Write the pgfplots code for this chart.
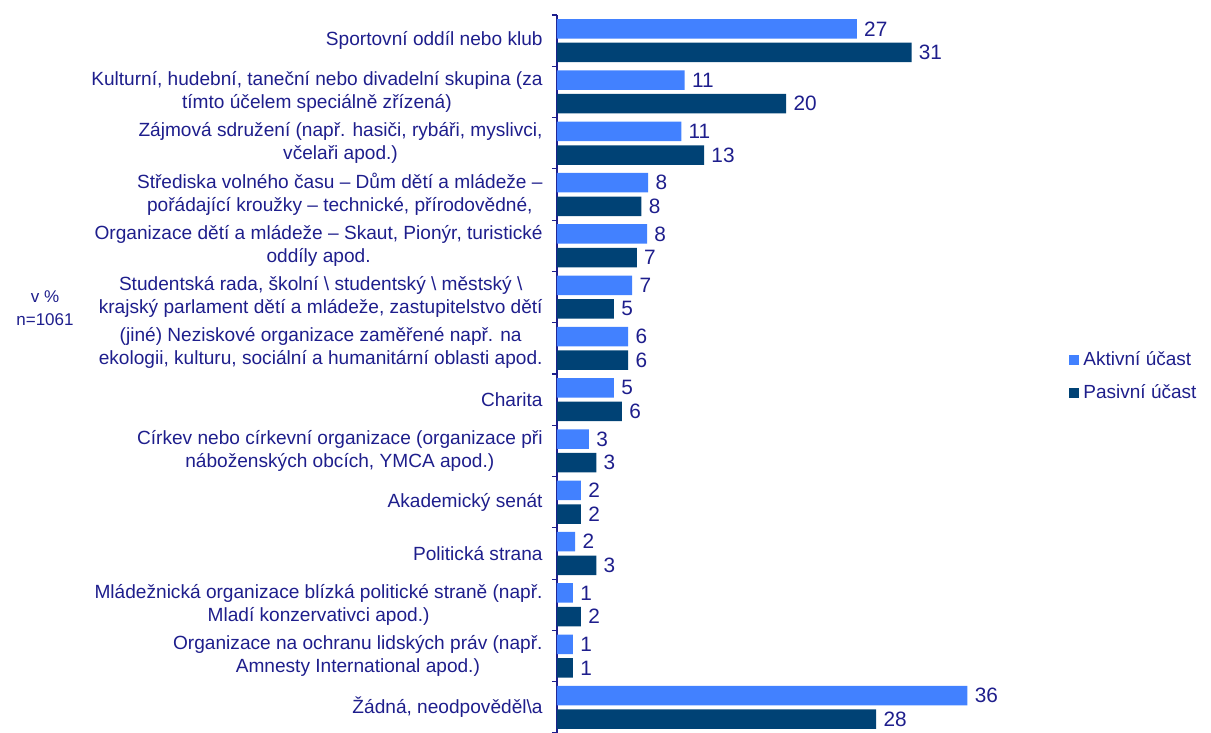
\documentclass[border=0pt]{standalone}
\usepackage{pgfplots}
\pgfplotsset{compat=1.18}
\usepackage{fontspec}
\setmainfont{Liberation Sans}
\definecolor{textcol}{RGB}{30,30,140}
\definecolor{lightbar}{RGB}{66,129,255}
\definecolor{darkbar}{RGB}{0,66,117}
\begin{document}
\begin{tikzpicture}
\path[use as bounding box] (-278.5pt,0pt) rectangle (327pt,366.5pt);
\begin{axis}[
  scale only axis,
  width=228pt, height=359pt,
  xmin=0, xmax=40,
  ymin=-0.5, ymax=13.5,
  xbar, bar width=9.75pt,
  axis x line=none,
  axis y line*=left,
  y axis line style={-, draw=textcol, line width=0.6pt},
  ytick={0,...,13},
  major tick length=0pt,
  minor ytick={-0.5,0.5,...,13.5},
  minor tick length=2.5pt,
  tick align=outside,
  minor tick style={draw=textcol, line width=0.6pt},
  yticklabel style={font=\fontsize{9.55}{11.5}\selectfont, text=textcol, align=center, inner sep=0pt, xshift=-7pt},
  yticklabels={
    {Žádná, neodpověděl\textbackslash{}a},
    {Organizace na ochranu lidských práv (např.\\Amnesty International apod.)},
    {Mládežnická organizace blízká politické straně (např.\\Mladí konzervativci apod.)},
    {Politická strana},
    {Akademický senát},
    {Církev nebo církevní organizace (organizace při\\náboženských obcích, YMCA apod.)},
    {Charita},
    {(jiné) Neziskové organizace zaměřené např. na\\ekologii, kulturu, sociální a humanitární oblasti apod.},
    {Studentská rada, školní \textbackslash{} studentský \textbackslash{} městský \textbackslash{}\\krajský parlament dětí a mládeže, zastupitelstvo dětí},
    {Organizace dětí a mládeže – Skaut, Pionýr, turistické\\oddíly apod.},
    {Střediska volného času – Dům dětí a mládeže –\\pořádající kroužky – technické, přírodovědné,},
    {Zájmová sdružení (např. hasiči, rybáři, myslivci,\\včelaři apod.)},
    {Kulturní, hudební, taneční nebo divadelní skupina (za\\tímto účelem speciálně zřízená)},
    {Sportovní oddíl nebo klub}
  },
  point meta=explicit symbolic,
  nodes near coords,
  nodes near coords style={font=\fontsize{10.4}{12}\selectfont, text=textcol, anchor=west, inner sep=0pt, xshift=3.5pt},
  legend style={at={(1.123,0.497)}, anchor=west, draw=none, fill=none,
    font=\fontsize{9.5}{11.5}\selectfont, text=textcol, row sep=4pt, inner sep=0pt},
  legend cell align=left,
  legend image code/.code={\fill[#1] (0pt,-2.5pt) rectangle (5pt,2.5pt);},
]
\addplot[fill=lightbar, draw=none, bar shift=5.9pt] table[x=a, y=y, meta=l] {
y a l
13 26.3 27
12 11.2 11
11 10.9 11
10 8.0 8
9 7.9 8
8 6.6 7
7 6.25 6
6 5.0 5
5 2.8 3
4 2.1 2
3 1.6 2
2 1.4 1
1 1.4 1
0 36.0 36
};
\addlegendentry{Aktivní účast}
\addplot[fill=darkbar, draw=none, bar shift=-5.9pt] table[x=b, y=y, meta=l] {
y b l
13 31.1 31
12 20.1 20
11 12.9 13
10 7.4 8
9 7.0 7
8 5.0 5
7 6.25 6
6 5.7 6
5 3.45 3
4 2.1 2
3 3.45 3
2 2.1 2
1 1.4 1
0 28.0 28
};
\addlegendentry{Pasivní účast}
\end{axis}
\node[font=\fontsize{8.5}{11.5}\selectfont, text=textcol, align=center] at (-256pt,212.5pt) {v \%\\n=1061};
\end{tikzpicture}
\end{document}
